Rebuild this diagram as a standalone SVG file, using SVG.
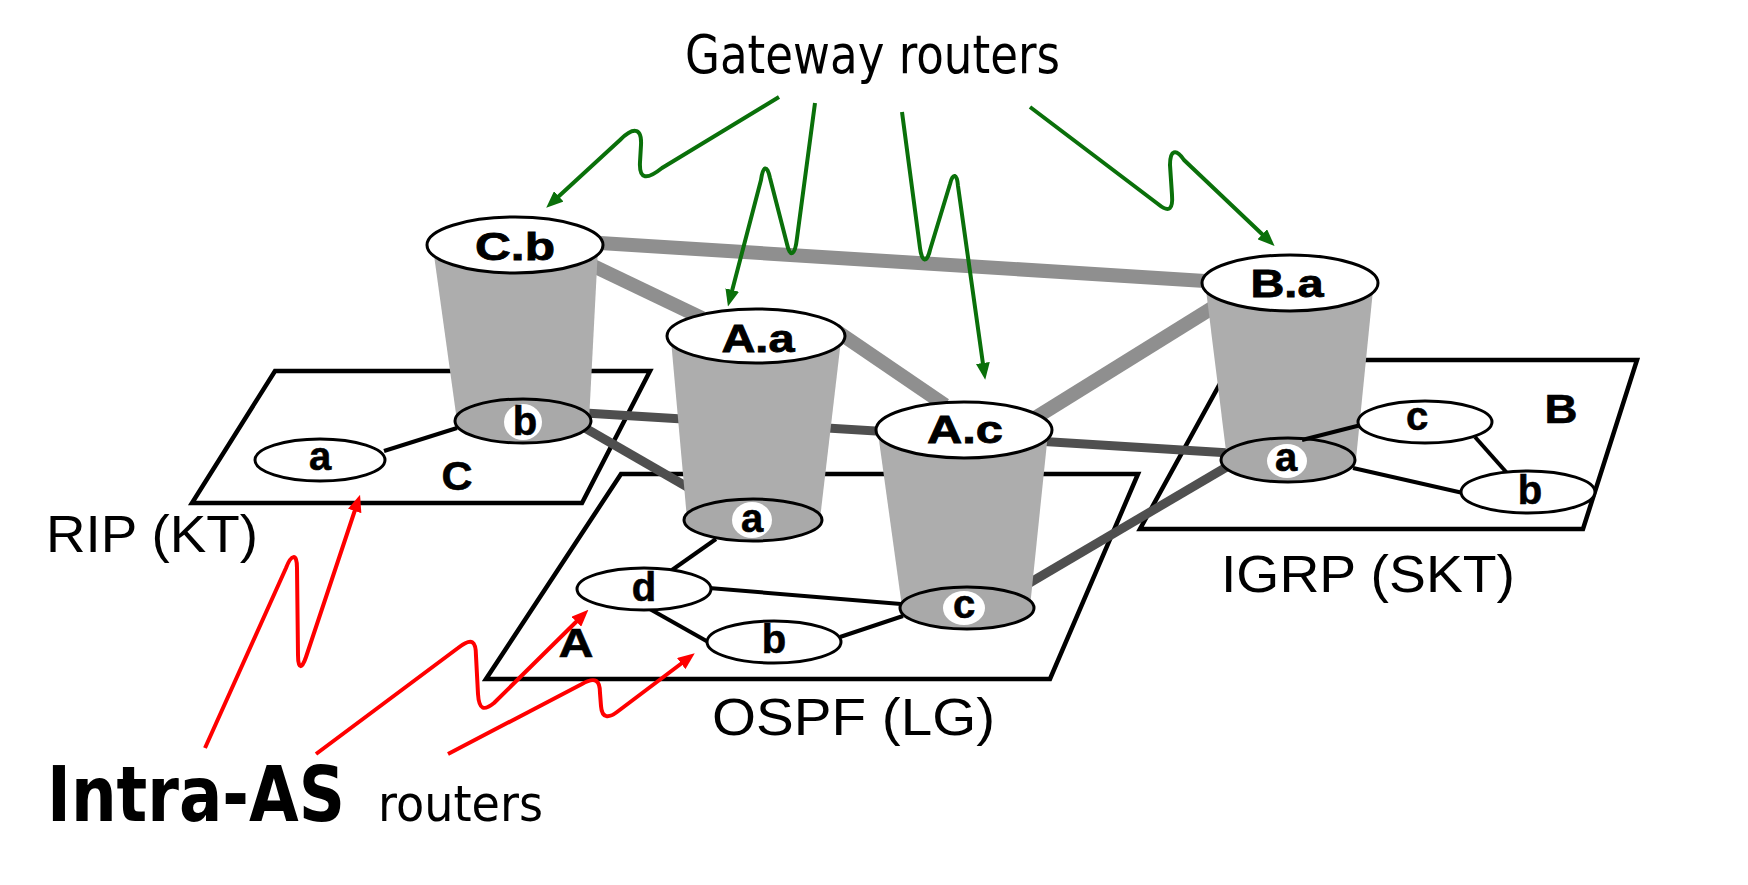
<svg xmlns="http://www.w3.org/2000/svg" width="1748" height="885" viewBox="0 0 1748 885">
<defs>
<style>
.plane{fill:#fff;stroke:#000;stroke-width:4.5}
.body{fill:#adadad}
.top{fill:#fff;stroke:#000;stroke-width:3}
.low{fill:#a9a9a9;stroke:#000;stroke-width:3}
.spot{fill:#fff}
.rtr{fill:#fff;stroke:#000;stroke-width:3}
.lbl{font-family:"Liberation Sans",Arial,sans-serif;font-weight:bold;font-size:38px;text-anchor:middle;fill:#000;stroke:#000;stroke-width:0.8}
.lw{font-family:"Liberation Sans",Arial,sans-serif;font-weight:bold;font-size:40px;text-anchor:middle;fill:#000;stroke:#000;stroke-width:0.6}
.light{stroke:#8f8f8f;stroke-width:14;fill:none}
.dark{stroke:#4f4f4f;stroke-width:9;fill:none}
.intra{stroke:#000;stroke-width:4;fill:none}
.ga{stroke:#0a700a;stroke-width:4;fill:none;stroke-linejoin:round;marker-end:url(#ag)}
.ra{stroke:#ff0000;stroke-width:4;fill:none;stroke-linejoin:round;marker-end:url(#ar)}
.cap{font-family:"Liberation Sans",Arial,sans-serif;font-size:52px;fill:#000}
.hum{font-family:"DejaVu Sans","Liberation Sans",sans-serif;fill:#000}
</style>
<marker id="ag" markerUnits="userSpaceOnUse" markerWidth="17" markerHeight="14" viewBox="0 0 17 14" refX="1" refY="7" orient="auto"><path d="M0,0 L17,7 L0,14 z" fill="#0a700a"/></marker>
<marker id="ar" markerUnits="userSpaceOnUse" markerWidth="17" markerHeight="14" viewBox="0 0 17 14" refX="1" refY="7" orient="auto"><path d="M0,0 L17,7 L0,14 z" fill="#ff0000"/></marker>
</defs>
<rect width="1748" height="885" fill="#fff"/>

<g id="planes">
<polygon id="plane-C" class="plane" points="275,371 650,371 582,503 192,503"/>
<polygon id="plane-A" class="plane" points="621,474 1138,474 1050,679 486,679"/>
<polygon id="plane-B" class="plane" points="1233,360 1637,360 1583,529 1140,529"/>
</g>

<g id="connectors-inter">
<line class="light" x1="600" y1="243" x2="1205" y2="281"/>
<line class="light" x1="585" y1="262" x2="702" y2="318"/>
<line class="light" x1="835" y1="330" x2="945" y2="405"/>
<line class="light" x1="1035" y1="418" x2="1225" y2="300"/>
<line class="dark" x1="585" y1="413" x2="1230" y2="453"/>
<line class="dark" x1="585" y1="428" x2="696" y2="492"/>
<line class="dark" x1="1026" y1="585" x2="1230" y2="465"/>
</g>

<g id="gw-Cb">
<polygon class="body" points="433,248 598,248 589,421 457,421"/>
<ellipse class="top" cx="515" cy="245" rx="88" ry="28"/>
<text class="lbl" x="515" y="260" textLength="80" lengthAdjust="spacingAndGlyphs">C.b</text>
<ellipse class="low" cx="523" cy="421" rx="68" ry="22"/>
<ellipse class="spot" cx="523" cy="422" rx="19" ry="18"/>
<text class="lw" x="525" y="435">b</text>
</g>

<g id="gw-Aa">
<polygon class="body" points="671,340 841,340 820,519 687,519"/>
<ellipse class="top" cx="756" cy="336" rx="89" ry="27"/>
<text class="lbl" x="758" y="352" textLength="73" lengthAdjust="spacingAndGlyphs">A.a</text>
<ellipse class="low" cx="753" cy="520" rx="69" ry="21"/>
<ellipse class="spot" cx="752" cy="520" rx="20" ry="18"/>
<text class="lw" x="752" y="532">a</text>
</g>

<g id="gw-Ac">
<polygon class="body" points="878,433 1048,433 1030,607 902,607"/>
<ellipse class="top" cx="964" cy="430" rx="88" ry="28"/>
<text class="lbl" x="965" y="443" textLength="76" lengthAdjust="spacingAndGlyphs">A.c</text>
<ellipse class="low" cx="967" cy="608" rx="67" ry="21"/>
<ellipse class="spot" cx="964" cy="608" rx="21" ry="17"/>
<text class="lw" x="964" y="618">c</text>
</g>

<g id="gw-Ba">
<polygon class="body" points="1206,290 1373,290 1356,459 1227,459"/>
<ellipse class="top" cx="1290" cy="283" rx="88" ry="28"/>
<text class="lbl" x="1287" y="297" textLength="73" lengthAdjust="spacingAndGlyphs">B.a</text>
<ellipse class="low" cx="1288" cy="460" rx="67" ry="22"/>
<ellipse class="spot" cx="1287" cy="461" rx="20" ry="17"/>
<text class="lw" x="1286" y="471">a</text>
</g>

<g id="connectors-intra">
<line class="intra" x1="384" y1="451" x2="457" y2="428"/>
<line class="intra" x1="716" y1="539" x2="672" y2="570"/>
<line class="intra" x1="709" y1="588" x2="901" y2="604"/>
<line class="intra" x1="648" y1="608" x2="710" y2="643"/>
<line class="intra" x1="840" y1="637" x2="903" y2="616"/>
<line class="intra" x1="1302" y1="440" x2="1361" y2="425"/>
<line class="intra" x1="1353" y1="468" x2="1463" y2="493"/>
<line class="intra" x1="1475" y1="437" x2="1507" y2="473"/>
</g>

<g id="rtr-Ca"><ellipse class="rtr" cx="320" cy="460" rx="65" ry="21"/><text class="lw" x="320" y="470">a</text></g>
<g id="rtr-Ad"><ellipse class="rtr" cx="644" cy="589" rx="67" ry="21"/><text class="lw" x="644" y="601">d</text></g>
<g id="rtr-Ab"><ellipse class="rtr" cx="774" cy="642" rx="67" ry="21"/><text class="lw" x="774" y="653">b</text></g>
<g id="rtr-Bc"><ellipse class="rtr" cx="1425" cy="422" rx="67" ry="21"/><text class="lw" x="1417" y="430">c</text></g>
<g id="rtr-Bb"><ellipse class="rtr" cx="1528" cy="492" rx="67" ry="21"/><text class="lw" x="1530" y="504">b</text></g>

<g id="plane-labels">
<text class="lw" x="457" y="490" font-size="42" textLength="31" lengthAdjust="spacingAndGlyphs">C</text>
<text class="lw" x="576" y="657" textLength="35" lengthAdjust="spacingAndGlyphs">A</text>
<text class="lw" x="1561" y="423" font-size="43" textLength="33" lengthAdjust="spacingAndGlyphs">B</text>
</g>

<g id="captions">
<text class="hum" x="685" y="73" font-size="54" textLength="375" lengthAdjust="spacingAndGlyphs">Gateway routers</text>
<text class="cap" x="46" y="552" textLength="212" lengthAdjust="spacingAndGlyphs">RIP (KT)</text>
<text class="cap" x="712" y="735" textLength="283" lengthAdjust="spacingAndGlyphs">OSPF (LG)</text>
<text class="cap" x="1221" y="592" textLength="294" lengthAdjust="spacingAndGlyphs">IGRP (SKT)</text>
<text class="hum" x="47" y="821" font-size="70" font-weight="bold" textLength="298" lengthAdjust="spacingAndGlyphs" transform="translate(47 821) scale(1 1.1) translate(-47 -821)">Intra-AS</text>
<text class="hum" x="378" y="821" font-size="50" textLength="165" lengthAdjust="spacingAndGlyphs">routers</text>
</g>

<g id="annotation-arrows">
<path class="ga" d="M779,97 L662,168 C647,180 639,180 640,162 L641,145 C642,126 632,128 620,140 L558,197"/>
<path class="ga" d="M815,103 L797,238 C795,256 790,258 787,244 L770,178 C767,164 763,166 761,180 L732,291"/>
<path class="ga" d="M902,112 L920,248 C922,263 927,263 930,250 L950,184 C953,172 957,174 958,186 L983,364"/>
<path class="ga" d="M1030,107 L1158,204 C1170,214 1173,208 1172,195 L1170,165 C1170,150 1176,148 1184,160 L1263,235"/>
<path class="ra" d="M205,748 L286,568 C291,555 297,552 297,568 L298,655 C298,670 302,669 306,657 L355,510"/>
<path class="ra" d="M316,754 L458,648 C472,637 476,641 476,656 L478,694 C479,710 484,711 494,703 L577,621"/>
<path class="ra" d="M448,754 L582,684 C596,676 600,681 600,693 L601,706 C602,719 609,718 617,712 L682,663"/>
</g>
</svg>
